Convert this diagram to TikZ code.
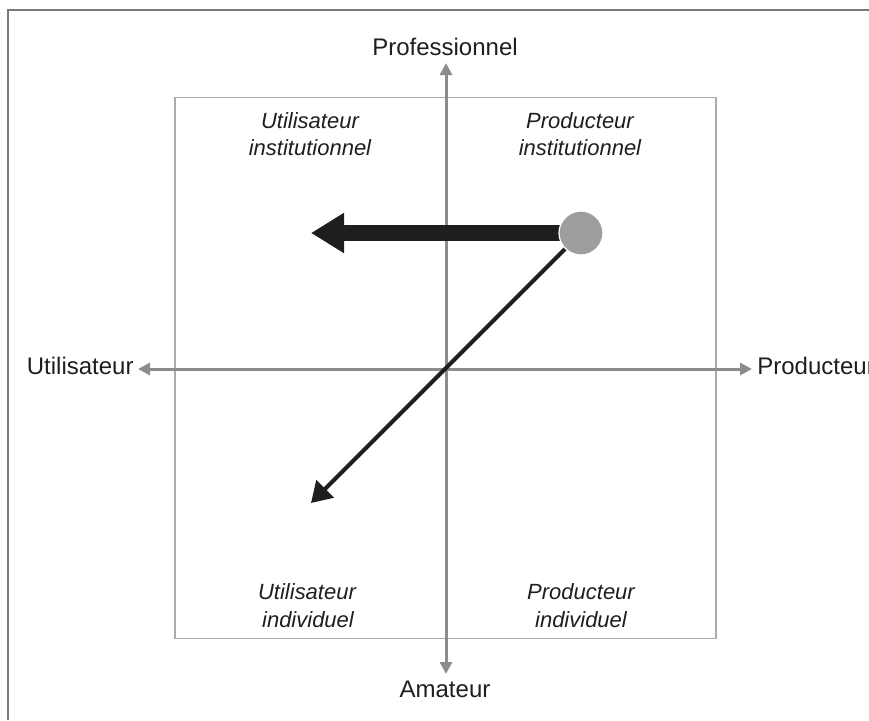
\documentclass[tikz,border=0pt]{standalone}
\usepackage{fontspec}
\setmainfont{Liberation Sans}
\usetikzlibrary{arrows.meta}
\definecolor{axisgray}{HTML}{8C8C8C}
\definecolor{boxgray}{HTML}{ABABAB}
\definecolor{framegray}{HTML}{7A7A7A}
\definecolor{ink}{HTML}{1E1E1E}
\definecolor{dotgray}{HTML}{9E9E9E}
\tikzset{
  axis/.style={draw=axisgray, line width=1.5pt, -{Triangle[length=6pt,width=6pt]}},
  axislabel/.style={anchor=base, inner sep=0pt, text=ink, font=\fontsize{12}{14}\selectfont},
  quadlabel/.style={anchor=base, inner sep=0pt, text=ink, font=\fontsize{11}{13}\selectfont\itshape},
  bigarrow/.style={draw=ink, line width=8pt, -{Triangle[length=16.5pt,width=19pt]}},
  thinarrow/.style={draw=ink, line width=2pt, -{Triangle[length=10pt,width=12pt]}},
  dot/.style={circle, fill=dotgray, draw=white, line width=0.6pt, minimum size=22pt, inner sep=0pt}
}
\begin{document}
\begin{tikzpicture}[x=0.5pt, y=-0.5pt]
\useasboundingbox (0,0) rectangle (869,720);
% outer frame (only left and top edges visible)
\draw[framegray, line width=0.8pt] (8,720) -- (8,10) -- (869,10);
% inner box
\node[draw=boxgray, line width=0.8pt, minimum width=270.5pt, minimum height=270.5pt, inner sep=0pt] (box) at (445.5,368) {};
% axes
\coordinate (o) at (446,369);
\coordinate (ax-top) at (446,63);
\coordinate (ax-bot) at (446,674);
\coordinate (ax-left) at (138,369);
\coordinate (ax-right) at (752,369);
\draw[axis] (o) -- (ax-top);
\draw[axis] (o) -- (ax-bot);
\draw[axis] (o) -- (ax-left);
\draw[axis] (o) -- (ax-right);
% axis labels
\node[axislabel] (prof) at (445,55) {Professionnel};
\node[axislabel] (amat) at (445,697) {Amateur};
\node[axislabel, anchor=base east] (util) at (134,374) {Utilisateur};
\node[axislabel, anchor=base west] (prod) at (757,374) {Producteur};
% quadrant labels
\node[quadlabel] (ui1) at (310,128) {Utilisateur};
\node[quadlabel] (ui2) at (310,155) {institutionnel};
\node[quadlabel] (pi1) at (580,128) {Producteur};
\node[quadlabel] (pi2) at (580,155) {institutionnel};
\node[quadlabel] (uv1) at (307,599) {Utilisateur};
\node[quadlabel] (uv2) at (308,627) {individuel};
\node[quadlabel] (pv1) at (581,599) {Producteur};
\node[quadlabel] (pv2) at (581,627) {individuel};
% arrows from the dot
\coordinate (c) at (581,233);
\coordinate (tipA) at (311,233);
\coordinate (tipB) at (311,503);
\draw[bigarrow] (c) -- (tipA);
\draw[thinarrow] (c) -- (tipB);
\node[dot] (d) at (c) {};
\end{tikzpicture}
\end{document}
